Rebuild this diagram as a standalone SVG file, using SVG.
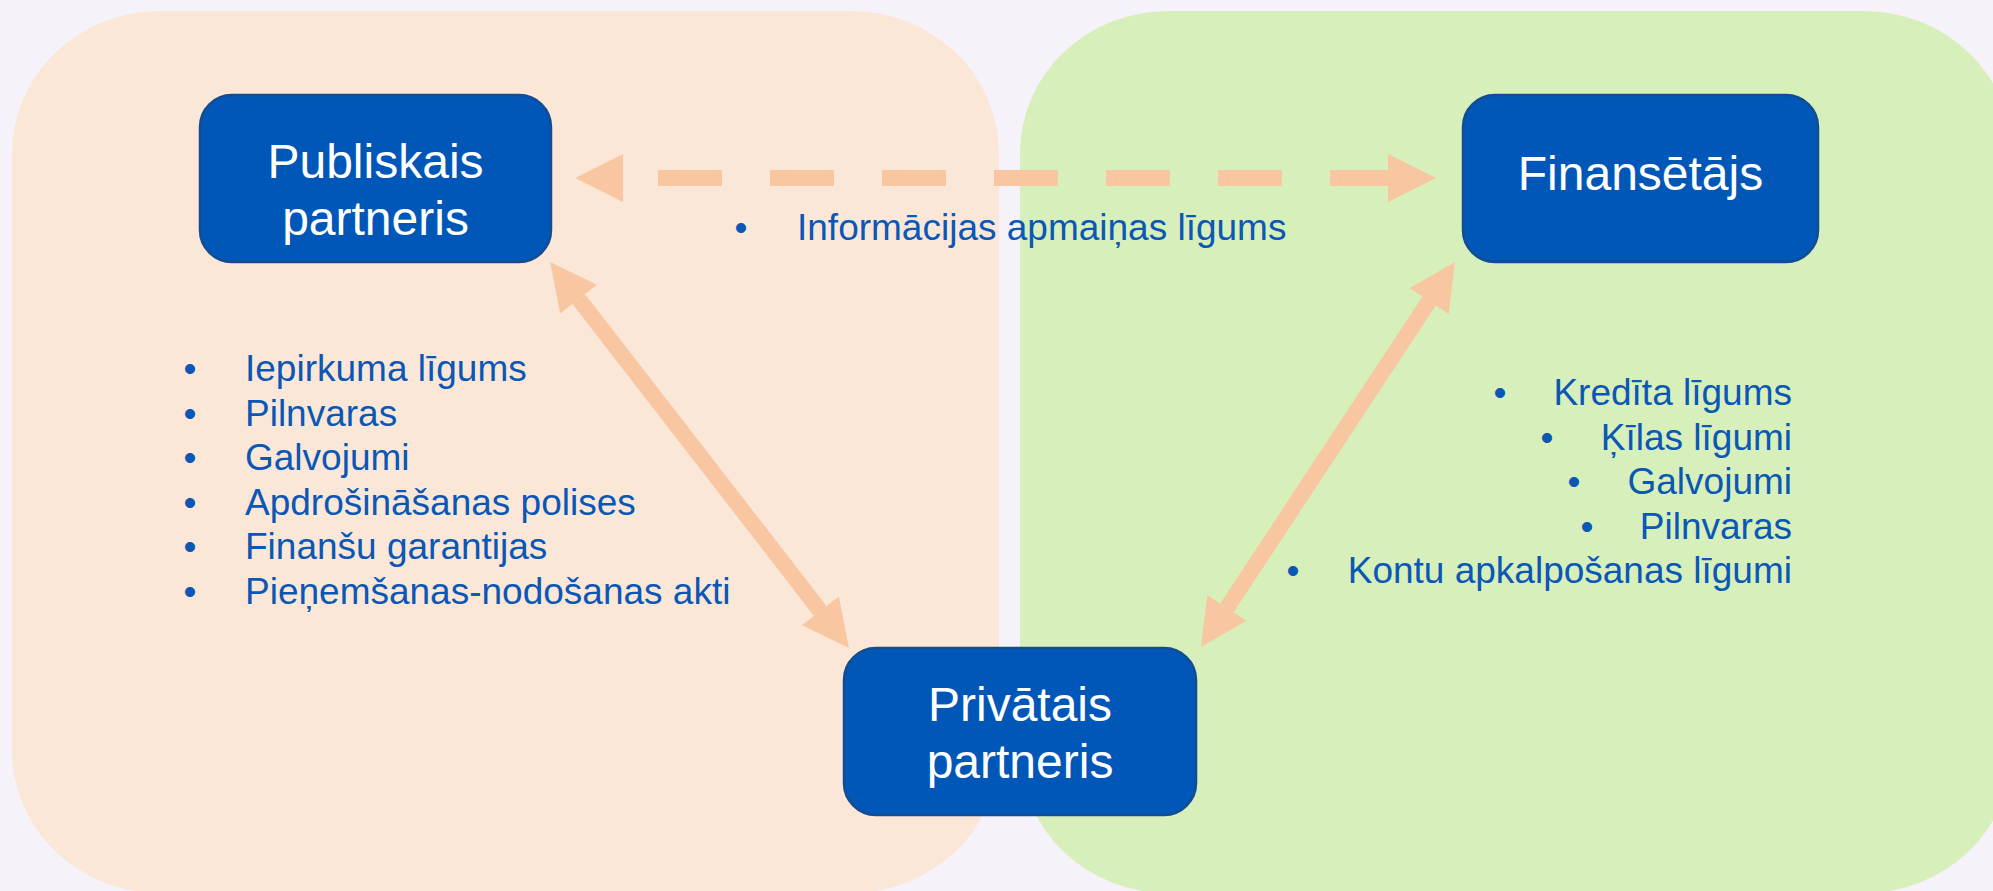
<svg xmlns="http://www.w3.org/2000/svg" width="1993" height="891" viewBox="0 0 1993 891">
<defs>
<style>
.node{fill:#0057B8;stroke:#124C91;stroke-width:2.5}
.nt{font-family:"Liberation Sans",Arial,sans-serif;font-size:48px;fill:#FFFFFF;text-anchor:middle}
.lt{font-family:"Liberation Sans",Arial,sans-serif;font-size:37px;fill:#0B57B5}
.bl{font-family:"Liberation Sans",Arial,sans-serif;font-size:37px;fill:#0B57B5;text-anchor:middle}
.conn{stroke:#F8C6A0;fill:none}
</style>
<marker id="head" markerUnits="userSpaceOnUse" markerWidth="48" markerHeight="48" viewBox="0 0 48 48" refX="0" refY="24" orient="auto-start-reverse">
<path d="M0,0 L48,24 L0,48 Z" fill="#F8C6A0"/>
</marker>
<marker id="head2" markerUnits="userSpaceOnUse" markerWidth="47" markerHeight="47" viewBox="0 0 47 47" refX="0" refY="23.5" orient="auto-start-reverse">
<path d="M0,0 L47,23.5 L0,47 Z" fill="#F8C6A0"/>
</marker>
</defs>
<rect x="0" y="0" width="1993" height="891" fill="#F5F3F9"/>
<g id="panels">
<rect x="12" y="11" width="987" height="882" rx="148" ry="142" fill="#FBE7D8"/>
<rect x="1020" y="11" width="992" height="882" rx="148" ry="142" fill="#D7EFBA"/>
</g>
<g id="connectors">
<line class="conn" x1="623" y1="178" x2="1388" y2="178" stroke-width="16" stroke-dasharray="64 48" stroke-dashoffset="77" marker-start="url(#head)" marker-end="url(#head)"/>
<line class="conn" x1="578.8" y1="299.2" x2="820.2" y2="610.8" stroke-width="16" marker-start="url(#head2)" marker-end="url(#head2)"/>
<line class="conn" x1="1429.1" y1="301.2" x2="1226.9" y2="607.8" stroke-width="16" marker-start="url(#head2)" marker-end="url(#head2)"/>
</g>
<g id="node-publiskais">
<rect class="node" x="200" y="95" width="351" height="167" rx="32" ry="32"/>
<text class="nt" x="375.5" y="178">Publiskais</text>
<text class="nt" x="375.5" y="235">partneris</text>
</g>
<g id="node-finansetajs">
<rect class="node" x="1463" y="95" width="355" height="167" rx="32" ry="32"/>
<text class="nt" x="1640.5" y="190">Finansētājs</text>
</g>
<g id="node-privatais">
<rect class="node" x="844" y="648" width="352" height="167" rx="32" ry="32"/>
<text class="nt" x="1020" y="721">Privātais</text>
<text class="nt" x="1020" y="778">partneris</text>
</g>
<g id="label-info">
<text class="bl" x="741" y="240">•</text>
<text class="lt" x="797" y="240">Informācijas apmaiņas līgums</text>
</g>
<g id="label-left">
<text class="bl" x="190" y="381">•</text><text class="lt" x="245" y="381">Iepirkuma līgums</text>
<text class="bl" x="190" y="426">•</text><text class="lt" x="245" y="426">Pilnvaras</text>
<text class="bl" x="190" y="470">•</text><text class="lt" x="245" y="470">Galvojumi</text>
<text class="bl" x="190" y="515">•</text><text class="lt" x="245" y="515">Apdrošināšanas polises</text>
<text class="bl" x="190" y="559">•</text><text class="lt" x="245" y="559">Finanšu garantijas</text>
<text class="bl" x="190" y="604">•</text><text class="lt" x="245" y="604">Pieņemšanas-nodošanas akti</text>
</g>
<g id="label-right">
<text class="bl" x="1500" y="405">•</text><text class="lt" x="1792" y="405" text-anchor="end">Kredīta līgums</text>
<text class="bl" x="1547" y="450">•</text><text class="lt" x="1792" y="450" text-anchor="end">Ķīlas līgumi</text>
<text class="bl" x="1574" y="494">•</text><text class="lt" x="1792" y="494" text-anchor="end">Galvojumi</text>
<text class="bl" x="1587" y="539">•</text><text class="lt" x="1792" y="539" text-anchor="end">Pilnvaras</text>
<text class="bl" x="1293" y="583">•</text><text class="lt" x="1792" y="583" text-anchor="end">Kontu apkalpošanas līgumi</text>
</g>
</svg>
